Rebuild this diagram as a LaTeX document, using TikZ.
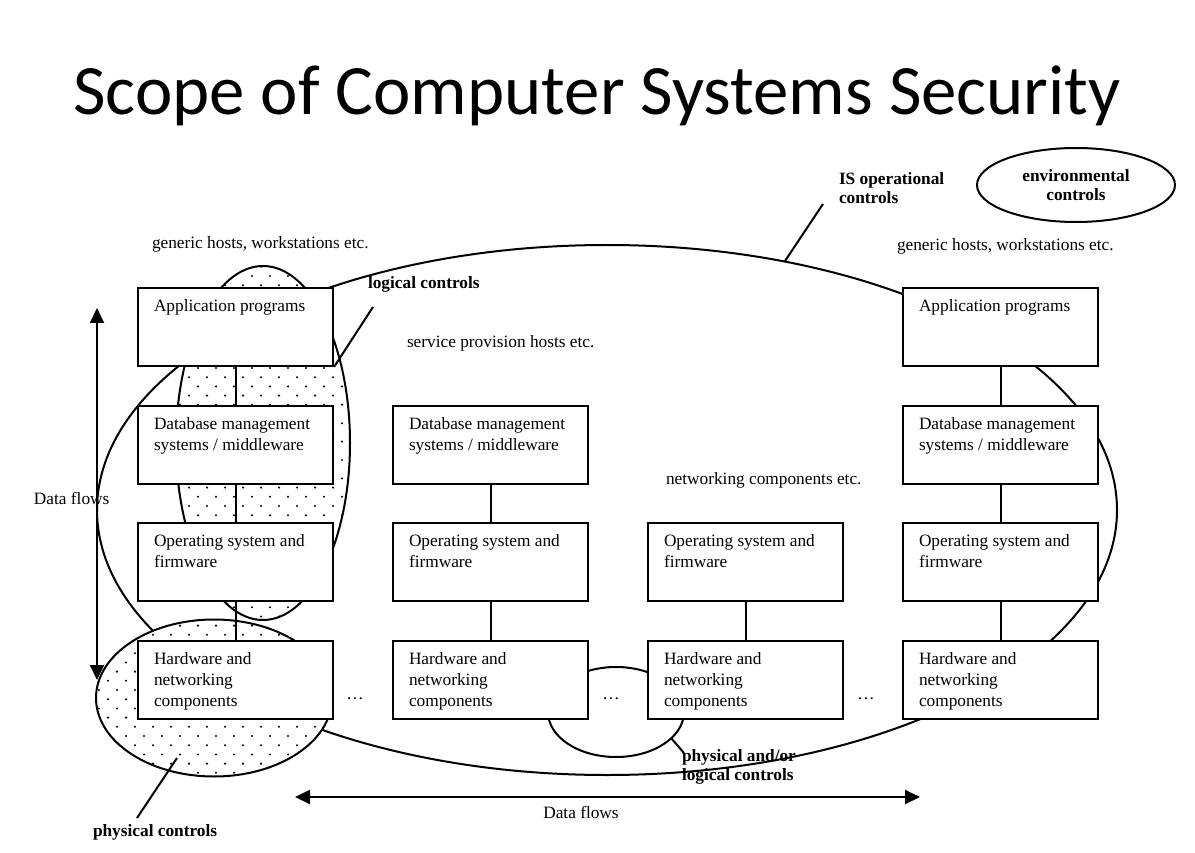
\documentclass[tikz,border=0pt]{standalone}
\usepackage{fontspec}
\setmainfont{Liberation Serif}
\newfontfamily\titlefont{Carlito}
\usetikzlibrary{arrows.meta,shapes.geometric}

% one layer of a host: white box with its caption in the top left corner
\newcommand\layerbox[4]{%
  \node[layer, anchor=north west] (#1) at (#2,#3) {};
  \node[boxtext] (#1-t) at ([xshift=16pt,yshift=-11.5pt]#1.north west) {#4};
}
% staggered dot grid, rows \i = #1..#2, columns \j = #3..#4
\newcommand\dotgrid[4]{%
  \foreach \i in {#1,...,#2}{%
    \foreach \j in {#3,...,#4}{%
      \fill ({\j*18+mod(\i,2)*9},{\i*9.2}) circle [radius=1.15pt];
    }%
  }%
}

\begin{document}
\begin{tikzpicture}[x=1pt,y=-1pt,line width=2pt,
  layer/.style={draw, fill=white, minimum width=195pt, minimum height=78pt, inner sep=0pt},
  boxtext/.style={inner sep=0pt, anchor=north west, align=left,
    font=\fontsize{17.3pt}{21pt}\selectfont},
  lbl/.style={inner sep=0pt, align=left, font=\fontsize{17.3pt}{19pt}\selectfont},
  lblb/.style={lbl, font=\fontsize{17.3pt}{19pt}\selectfont\bfseries},
  flow/.style={{Triangle[length=15pt,width=14pt]}-{Triangle[length=15pt,width=14pt]}, line width=2pt},
  lead/.style={line width=2pt},
  link/.style={line width=2pt}]

\useasboundingbox (0,0) rectangle (1195,853);

% title
\node[font=\titlefont\fontsize{70.8pt}{80pt}\selectfont, anchor=base] (title) at (597,115)
  {Scope of Computer Systems Security};

% IS operational controls: the large ellipse round everything
\draw (607,510) ellipse [x radius=510pt, y radius=265pt];

% logical controls (dotted)
\fill[white] (263,443) ellipse [x radius=87pt, y radius=177pt];
\begin{scope}
  \clip (263,443) ellipse [x radius=87pt, y radius=177pt];
  \dotgrid{28}{68}{9}{20}
\end{scope}
\draw (263,443) ellipse [x radius=87pt, y radius=177pt];

% physical controls (dotted)
\fill[white] (214,698) ellipse [x radius=118pt, y radius=78.5pt];
\begin{scope}
  \clip (214,698) ellipse [x radius=118pt, y radius=78.5pt];
  \dotgrid{67}{85}{5}{19}
\end{scope}
\draw (214,698) ellipse [x radius=118pt, y radius=78.5pt];

% physical and/or logical controls between hardware
\draw (616,712) ellipse [x radius=68pt, y radius=45pt];

% environmental controls
\node[draw, ellipse, minimum width=198pt, minimum height=74pt, inner sep=0pt,
  lblb, align=center] (env) at (1076,185) {environmental\\controls};

% layer boxes
\layerbox{app1}{137}{287}{Application programs}
\layerbox{db1}{137}{405}{Database management\\systems / middleware}
\layerbox{os1}{137}{522}{Operating system and\\firmware}
\layerbox{hw1}{137}{640}{Hardware and\\networking\\components}

\layerbox{db2}{392}{405}{Database management\\systems / middleware}
\layerbox{os2}{392}{522}{Operating system and\\firmware}
\layerbox{hw2}{392}{640}{Hardware and\\networking\\components}

\layerbox{os3}{647}{522}{Operating system and\\firmware}
\layerbox{hw3}{647}{640}{Hardware and\\networking\\components}

\layerbox{app4}{902}{287}{Application programs}
\layerbox{db4}{902}{405}{Database management\\systems / middleware}
\layerbox{os4}{902}{522}{Operating system and\\firmware}
\layerbox{hw4}{902}{640}{Hardware and\\networking\\components}

% links between layers
\draw[link] (app1) -- (db1);
\draw[link] (db1) -- (os1);
\draw[link] (os1) -- (hw1);
\draw[link] (db2) -- (os2);
\draw[link] (os2) -- (hw2);
\draw[link] (os3) -- (hw3);
\draw[link] (app4) -- (db4);
\draw[link] (db4) -- (os4);
\draw[link] (os4) -- (hw4);

% more hosts in between
\node[lbl] (dots1) at (355,699) {\ldots};
\node[lbl] (dots2) at (611,699) {\ldots};
\node[lbl] (dots3) at (866,699) {\ldots};

% host group captions
\node[lbl, anchor=west] (gh1) at (151,244) {generic hosts, workstations etc.};
\node[lbl, anchor=west] (gh4) at (896,246) {generic hosts, workstations etc.};
\node[lbl, anchor=west] (sph) at (406,343) {service provision hosts etc.};
\node[lbl, anchor=west] (nwc) at (665,480) {networking components etc.};

% control labels and their leaders
\node[lblb, anchor=north west] (isl) at (838,171) {IS operational\\controls};
\coordinate (isl-end) at (823,204);
\coordinate (isl-tip) at (785,261);
\draw[lead] (isl-end) -- (isl-tip);

\node[lblb, anchor=west] (lcl) at (367,284) {logical controls};
\coordinate (lcl-end) at (373,307);
\draw[lead] (lcl-end) -- (app1.south east);

\node[lblb, anchor=west] (pcl) at (92,832) {physical controls};
\coordinate (pcl-end) at (137,818);
\coordinate (pcl-tip) at (177,758);
\draw[lead] (pcl-end) -- (pcl-tip);

\coordinate (plc-tip) at (671,738);
\coordinate (plc-end) at (684,753);
\draw[lead] (plc-tip) -- (plc-end);
\node[lblb, anchor=north west] (plc) at (681,748) {physical and/or\\logical controls};

% data flows
\coordinate (vf-top) at (97,308);
\coordinate (vf-bot) at (97,680);
\draw[flow] (vf-top) -- (vf-bot);
\node[lbl, anchor=west] (vfl) at (33,498) {Data flows};

\coordinate (hf-left) at (295,797);
\coordinate (hf-right) at (920,797);
\draw[flow] (hf-left) -- (hf-right);
\node[lbl] (hfl) at (581,812) {Data flows};

\end{tikzpicture}
\end{document}
